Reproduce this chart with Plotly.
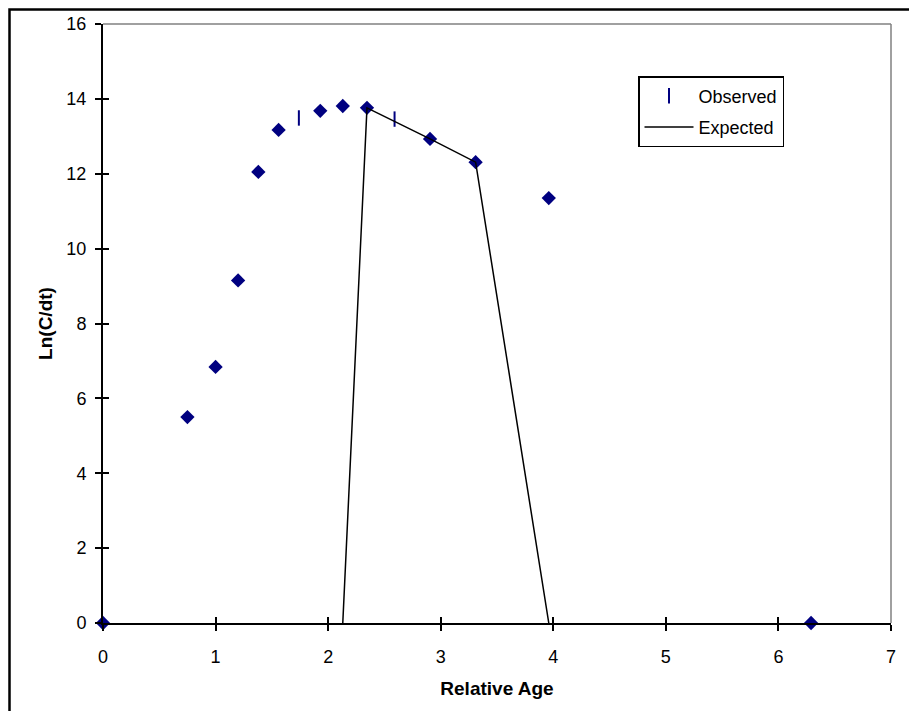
import plotly.graph_objects as go

# Observed data (diamond-marked points)
obs_x = [0.0, 0.75, 1.0, 1.2, 1.38, 1.56, 1.93, 2.13, 2.345, 2.905, 3.31, 3.96, 6.29]
obs_y = [0.0, 5.5, 6.84, 9.15, 12.05, 13.17, 13.68, 13.81, 13.76, 12.93, 12.31, 11.35, 0.0]
# Observed points drawn with the series' default dash marker
obs_tick_x = [1.74, 2.59]
obs_tick_y = [13.49, 13.46]
# Expected line
exp_x = [2.13, 2.345, 2.905, 3.31, 3.96]
exp_y = [0.0, 13.76, 12.93, 12.31, 0.0]

x_ticks = [0, 1, 2, 3, 4, 5, 6, 7]
y_ticks = [0, 2, 4, 6, 8, 10, 12, 14, 16]

NAVY = "#000080"
FONT = "Arial, Liberation Sans, sans-serif"
FS = 18

W, H = 909, 703
ML, MR, MT, MB = 95, 26, 16, 88
PW = W - ML - MR
PH = H - MT - MB

fig = go.Figure()
fig.add_trace(go.Scatter(
    x=obs_tick_x, y=obs_tick_y, mode="markers", name="Observed",
    legendgroup="obs",
    marker=dict(symbol="line-ns-open", size=11, color=NAVY,
                line=dict(color=NAVY, width=2)),
    cliponaxis=False,
))
fig.add_trace(go.Scatter(
    x=obs_x, y=obs_y, mode="markers", name="Observed",
    legendgroup="obs", showlegend=False,
    marker=dict(symbol="diamond", size=11, color=NAVY,
                line=dict(width=0)),
    cliponaxis=False,
))
fig.add_trace(go.Scatter(
    x=exp_x, y=exp_y, mode="lines", name="Expected",
    legendgroup="exp",
    line=dict(color="black", width=1.5),
    cliponaxis=False,
))

# invisible trace on overlay axes to give inside ticks (cross ticks)
fig.add_trace(go.Scatter(x=[0], y=[0], xaxis="x2", yaxis="y2",
                         mode="markers", marker=dict(opacity=0),
                         showlegend=False, hoverinfo="skip"))

axis_common = dict(showgrid=False, zeroline=False, linecolor="black",
                   linewidth=2, tickcolor="black", tickwidth=2,
                   automargin=False,
                   tickfont=dict(family=FONT, size=FS, color="black"))

fig.update_layout(
    width=W, height=H,
    margin=dict(l=ML, r=MR, t=MT, b=MB),
    paper_bgcolor="white", plot_bgcolor="white",
    font=dict(family=FONT, size=FS, color="black"),
    xaxis=dict(range=[0, 7], tickvals=x_ticks, ticks="outside", ticklen=6,
               ticklabelstandoff=10,
               title=dict(text="<b>Relative Age</b>", standoff=16,
                          font=dict(family=FONT, size=19)),
               **axis_common),
    yaxis=dict(range=[0, 16], tickvals=y_ticks, ticks="outside", ticklen=6,
               ticklabelstandoff=5,
               title=dict(text="<b>Ln(C/dt)</b>", standoff=9,
                          font=dict(family=FONT, size=19)),
               **axis_common),
    xaxis2=dict(range=[0, 7], tickvals=x_ticks, ticks="inside", ticklen=6,
                overlaying="x", showticklabels=False, showline=False,
                automargin=False,
                showgrid=False, zeroline=False, tickcolor="black", tickwidth=2),
    yaxis2=dict(range=[0, 16], tickvals=y_ticks, ticks="inside", ticklen=6,
                overlaying="y", showticklabels=False, showline=False,
                automargin=False,
                showgrid=False, zeroline=False, tickcolor="black", tickwidth=2),
    legend=dict(x=(638 - 103) / PW, y=(623 - 76) / PH, xanchor="left", yanchor="top",
                bordercolor="black", borderwidth=1.5, bgcolor="white",
                traceorder="grouped", tracegroupgap=5, itemwidth=49,
                entrywidth=160, entrywidthmode="pixels",
                font=dict(family=FONT, size=FS, color="black")),
    shapes=[
        # plot-area border (top and right in gray)
        dict(type="line", xref="paper", yref="paper", x0=0, x1=1, y0=1, y1=1,
             line=dict(color="#808080", width=1.5)),
        dict(type="line", xref="paper", yref="paper", x0=1, x1=1, y0=0, y1=1,
             line=dict(color="#808080", width=1.5)),
        # outer chart border
        dict(type="rect", xref="paper", yref="paper",
             x0=-(ML - 1.5) / PW, x1=1.2, y0=-0.3, y1=1 + (MT - 1.5) / PH,
             line=dict(color="black", width=2.5)),
    ],
)

fig.write_html("out.html")
